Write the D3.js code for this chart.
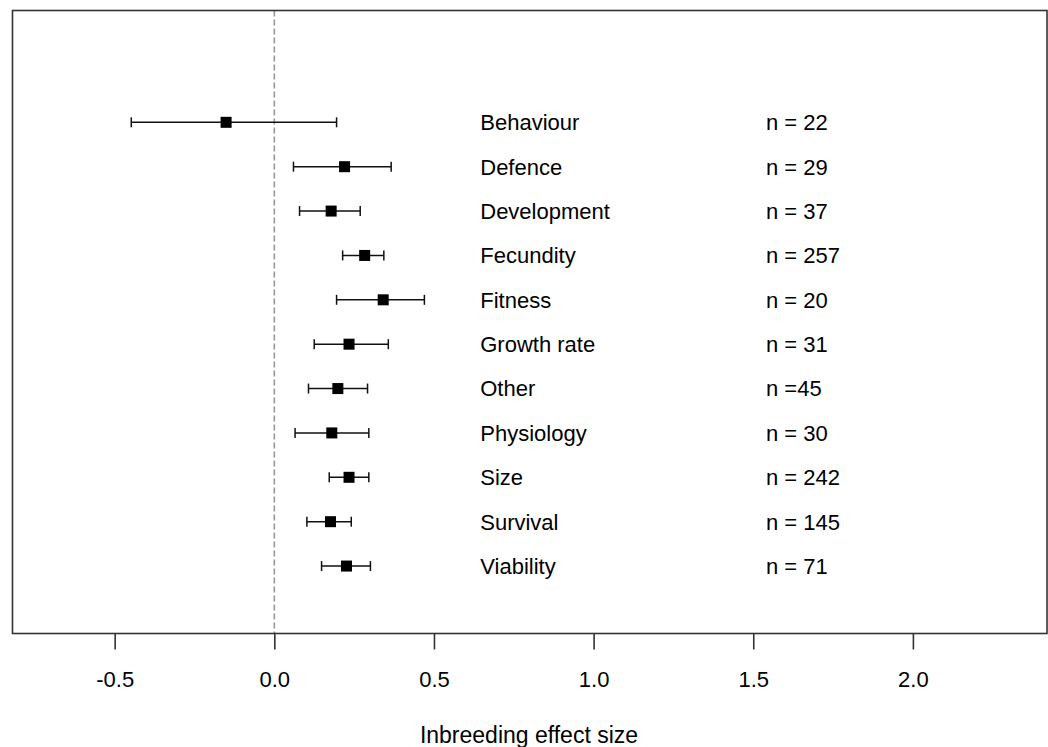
<!DOCTYPE html>
<html>
<head>
<meta charset="utf-8">
<script src="https://cdn.jsdelivr.net/npm/d3@7"></script>
<style>
  body { margin: 0; background: #fff; }
  text { font-family: Arial, "Liberation Sans", sans-serif; fill: #000; }
</style>
</head>
<body>
<div class="chart"></div>
<script>
// data
var categories = [`Behaviour`, `Defence`, `Development`, `Fecundity`, `Fitness`, `Growth rate`,
                  `Other`, `Physiology`, `Size`, `Survival`, `Viability`];
var estimate = [-0.151, 0.220, 0.178, 0.283, 0.341, 0.234, 0.199, 0.180, 0.234, 0.176, 0.226];
var lower    = [-0.448, 0.060, 0.079, 0.214, 0.195, 0.125, 0.107, 0.065, 0.172, 0.102, 0.148];
var upper    = [ 0.195, 0.366, 0.269, 0.343, 0.470, 0.357, 0.292, 0.296, 0.296, 0.241, 0.301];
var nLabels  = [`n = 22`, `n = 29`, `n = 37`, `n = 257`, `n = 20`, `n = 31`,
                `n =45`, `n = 30`, `n = 242`, `n = 145`, `n = 71`];
var xTicks = [-0.5, 0, 0.5, 1, 1.5, 2];

var fullWidth = 1048, fullHeight = 747;
var box = {left: 12.5, top: 10.5, right: 1047, bottom: 633.5};

var svg = d3.select(`.chart`)
    .append(`svg`)
    .attr(`width`, fullWidth)
    .attr(`height`, fullHeight);

// R style: xlim c(-0.7, 2.3), ylim c(0, 13), 4% padding
var xScale = d3.scaleLinear()
    .domain([-0.82, 2.42])
    .range([box.left, box.right]);

var yScale = d3.scaleLinear()
    .domain([-0.52, 13.52])
    .range([box.bottom, box.top]);

var rows = categories.map((c, i) => ({
    name: c, est: estimate[i], lo: lower[i], hi: upper[i], n: nLabels[i], y: 11 - i
}));

// reference line at zero
svg.append(`line`)
    .attr(`x1`, xScale(0)).attr(`x2`, xScale(0))
    .attr(`y1`, box.top).attr(`y2`, box.bottom)
    .style(`stroke`, `#999`)
    .style(`stroke-width`, 1.6)
    .style(`stroke-dasharray`, `6,3`);

// plot frame
svg.append(`rect`)
    .attr(`x`, box.left).attr(`y`, box.top)
    .attr(`width`, box.right - box.left)
    .attr(`height`, box.bottom - box.top)
    .style(`fill`, `none`)
    .style(`stroke`, `#333`)
    .style(`stroke-width`, 1.6);

// x axis
var xAxis = d3.axisBottom(xScale)
    .tickValues(xTicks)
    .tickFormat(d3.format(`.1f`))
    .tickSize(16)
    .tickPadding(22);

var gx = svg.append(`g`)
    .attr(`transform`, `translate(0, ${box.bottom})`)
    .call(xAxis);
gx.select(`.domain`).remove();
gx.selectAll(`.tick line`).style(`stroke`, `#333`).style(`stroke-width`, 1.6);
gx.selectAll(`.tick text`)
    .style(`font-size`, `22px`)
    .style(`font-family`, `Arial, "Liberation Sans", sans-serif`)
    .style(`fill`, `#000`)
    .text(d => d3.format(`.1f`)(d).replace(`−`, `-`));

svg.append(`text`)
    .attr(`x`, 529)
    .attr(`y`, 743)
    .attr(`text-anchor`, `middle`)
    .style(`font-size`, `23px`)
    .text(`Inbreeding effect size`);

// error bars
var capH = 5;
var g = svg.selectAll(`.row`)
    .data(rows)
    .enter()
    .append(`g`)
    .attr(`class`, `row`);

g.append(`line`)
    .attr(`x1`, d => xScale(d.lo)).attr(`x2`, d => xScale(d.hi))
    .attr(`y1`, d => yScale(d.y)).attr(`y2`, d => yScale(d.y))
    .style(`stroke`, `#111`).style(`stroke-width`, 1.5);

g.append(`line`)
    .attr(`x1`, d => xScale(d.lo)).attr(`x2`, d => xScale(d.lo))
    .attr(`y1`, d => yScale(d.y) - capH).attr(`y2`, d => yScale(d.y) + capH)
    .style(`stroke`, `#111`).style(`stroke-width`, 1.5);

g.append(`line`)
    .attr(`x1`, d => xScale(d.hi)).attr(`x2`, d => xScale(d.hi))
    .attr(`y1`, d => yScale(d.y) - capH).attr(`y2`, d => yScale(d.y) + capH)
    .style(`stroke`, `#111`).style(`stroke-width`, 1.5);

g.append(`rect`)
    .attr(`x`, d => xScale(d.est) - 5.5)
    .attr(`y`, d => yScale(d.y) - 5.5)
    .attr(`width`, 11).attr(`height`, 11)
    .style(`fill`, `#000`);

// labels
g.append(`text`)
    .attr(`x`, xScale(0.645))
    .attr(`y`, d => yScale(d.y))
    .attr(`dy`, `0.36em`)
    .style(`font-size`, `22px`)
    .text(d => d.name);

g.append(`text`)
    .attr(`x`, xScale(1.54))
    .attr(`y`, d => yScale(d.y))
    .attr(`dy`, `0.36em`)
    .style(`font-size`, `22px`)
    .text(d => d.n);
</script>
</body>
</html>
